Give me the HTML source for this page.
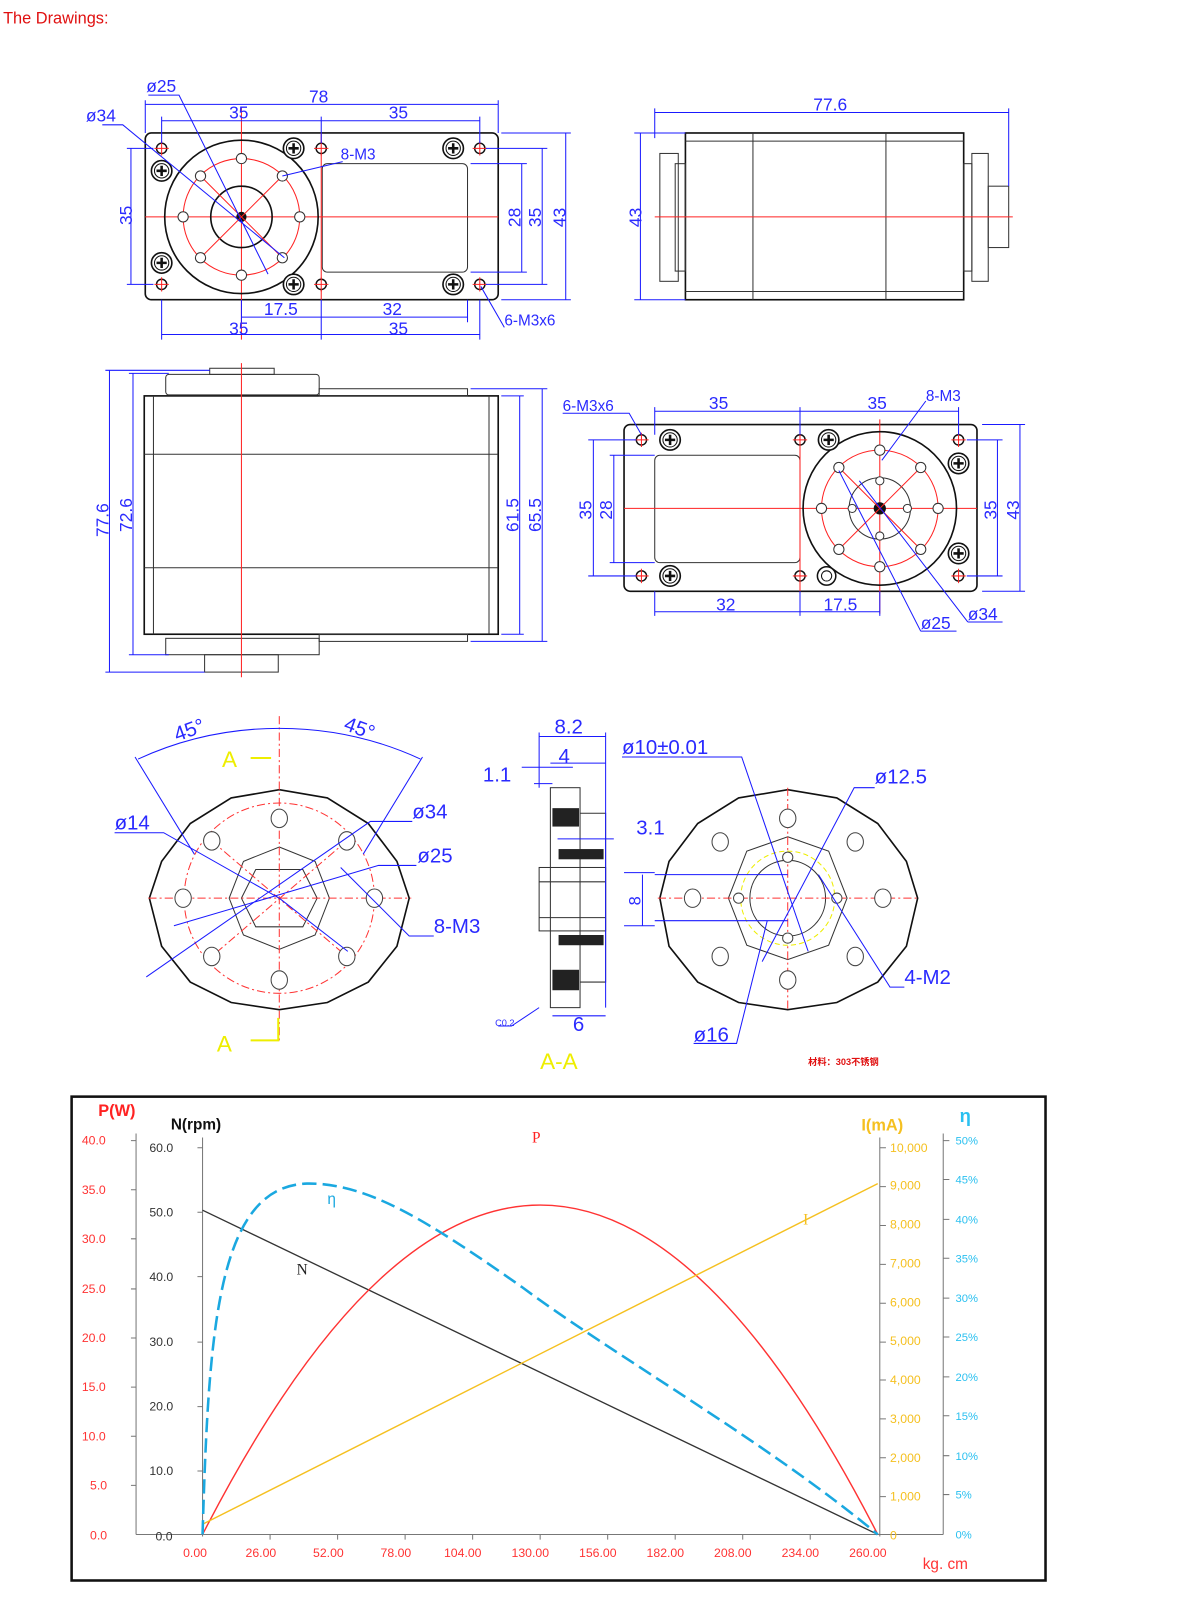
<!DOCTYPE html>
<html><head><meta charset="utf-8"><style>
html,body{margin:0;padding:0;background:#fff;}
svg{display:block}
text{font-family:"Liberation Sans","Noto Sans CJK SC",sans-serif;}
.b{stroke:#1a1aff;stroke-width:1;fill:none}
.bt{fill:#2a2aff;font-size:17px}
.k{stroke:#111;stroke-width:1.6;fill:none}
.k1{stroke:#333;stroke-width:1;fill:none}
.r{stroke:#f22;stroke-width:1;fill:none}
.rd{stroke:#f33;stroke-width:1;fill:none;stroke-dasharray:8 3 2 3}
.g{stroke:#777;stroke-width:1;fill:none}
</style></head><body>
<svg width="1200" height="1603" viewBox="0 0 1173 1567" preserveAspectRatio="none" xmlns="http://www.w3.org/2000/svg">
<defs>
<g id="sc"><circle r="10" fill="#fff" stroke="#111" stroke-width="1.6"/><circle r="7" fill="none" stroke="#111"/><path d="M-5 0H5M0 -5V5" stroke="#111" stroke-width="2.5"/></g>
<g id="rh"><circle r="5" fill="#fff" stroke="#111" stroke-width="1.4"/><path d="M-7 0H7M0 -7V7" stroke="#f22"/></g>
</defs>
<text x="3" y="23" fill="#e01010" style="font-size:16px">The Drawings:</text>

<!-- ===== Top-left view ===== -->
<rect x="142" y="130" width="345" height="163" rx="6" class="k"/>
<rect x="315" y="160" width="142" height="106" rx="5" class="k1"/>
<path d="M142 212H487M236 105V332M314 130V293" class="r"/>
<circle cx="236" cy="212" r="75" class="k"/>
<circle cx="236" cy="212" r="57" class="r"/>
<circle cx="236" cy="212" r="30" class="k"/>
<circle cx="236" cy="212" r="5" fill="#111"/>
<path d="M196 172L276 252M276 172L196 252" class="r"/>
<g fill="#fff" stroke="#333">
<circle cx="236" cy="155" r="5"/><circle cx="236" cy="269" r="5"/><circle cx="179" cy="212" r="5"/><circle cx="293" cy="212" r="5"/>
<circle cx="196" cy="172" r="5"/><circle cx="276" cy="172" r="5"/><circle cx="196" cy="252" r="5"/><circle cx="276" cy="252" r="5"/></g>
<use href="#sc" x="158" y="167"/><use href="#sc" x="158" y="257"/><use href="#sc" x="287" y="145"/><use href="#sc" x="287" y="278"/><use href="#sc" x="443" y="145"/><use href="#sc" x="443" y="278"/>
<use href="#rh" x="158" y="145"/><use href="#rh" x="158" y="278"/><use href="#rh" x="314" y="145"/><use href="#rh" x="314" y="278"/><use href="#rh" x="469" y="145"/><use href="#rh" x="469" y="278"/>
<g class="b">
<path d="M142 102H487M142 98V130M487 98V130"/>
<path d="M158 118H469M158 114V140M314 114V140M469 114V140"/>
<path d="M128 145V278M124 145H150M124 278H150"/>
<path d="M510 160V266M460 160H515M460 266H515"/>
<path d="M530 145V278M475 145H535M475 278H535"/>
<path d="M553 130V293M490 130H558M490 293H558"/>
<path d="M236 310H457M236 293V315M457 293V315"/>
<path d="M158 327H469M158 293V332M314 293V332M469 293V332"/>
<path d="M145 93H175L262 268M100 122H120L278 252"/>
<path d="M335 158L276 172M493 320L470 280"/>
</g>
<g class="bt">
<text x="302" y="100">78</text><text x="224" y="116">35</text><text x="380" y="116">35</text>
<text x="143" y="90">ø25</text><text x="84" y="119">ø34</text>
<text x="333" y="156" style="font-size:15px">8-M3</text>
<text x="258" y="308">17.5</text><text x="374" y="308">32</text>
<text x="224" y="327">35</text><text x="380" y="327">35</text>
<text x="493" y="318" style="font-size:15px">6-M3x6</text>
<text transform="translate(129,220) rotate(-90)">35</text>
<text transform="translate(509,222) rotate(-90)">28</text>
<text transform="translate(529,222) rotate(-90)">35</text>
<text transform="translate(553,222) rotate(-90)">43</text>
</g>

<!-- ===== Top-right view ===== -->
<rect x="670" y="130" width="272" height="163" class="k"/>
<path d="M736 130V293M866 130V293M670 138H942M670 285H942" class="k1"/>
<rect x="645" y="150" width="18" height="125" class="k1"/><rect x="660" y="160" width="10" height="105" class="k1"/>
<rect x="942" y="160" width="8" height="105" class="k1"/><rect x="950" y="150" width="16" height="125" class="k1"/>
<rect x="966" y="182" width="20" height="60" class="k1"/>
<path d="M640 212H990" class="r"/>
<g class="b"><path d="M640 110H986M640 106V135M986 106V182"/><path d="M626 130V293M620 130H670M620 293H670"/></g>
<g class="bt"><text x="795" y="108">77.6</text><text transform="translate(627,222) rotate(-90)">43</text></g>

<!-- ===== Middle-left view ===== -->
<rect x="141" y="387" width="346" height="233" class="k"/>
<path d="M150 387V620M478 387V620M141 444H487M141 555H487" class="k1"/>
<rect x="162" y="366" width="150" height="20" rx="3" class="k1"/>
<rect x="205" y="360" width="63" height="6" class="k1"/>
<rect x="312" y="380" width="145" height="7" class="k1"/>
<rect x="162" y="624" width="150" height="16" class="k1"/>
<rect x="200" y="640" width="72" height="17" class="k1"/>
<rect x="312" y="620" width="145" height="7" class="k1"/>
<path d="M236 355V662" class="r"/>
<g class="b">
<path d="M107 362V657M103 362H205M103 657H200"/>
<path d="M130 365V640M126 365H165M126 640H165"/>
<path d="M508 387V620M490 387H512M490 620H512"/>
<path d="M530 380V627M460 380H535M460 627H535"/>
</g>
<g class="bt"><text transform="translate(106,525) rotate(-90)">77.6</text><text transform="translate(129,520) rotate(-90)">72.6</text>
<text transform="translate(507,520) rotate(-90)">61.5</text><text transform="translate(529,520) rotate(-90)">65.5</text></g>

<!-- ===== Middle-right view ===== -->
<rect x="610" y="415" width="345" height="163" rx="6" class="k"/>
<rect x="640" y="445" width="142" height="105" rx="5" class="k1"/>
<path d="M610 497H955M860 410V600M782 415V578" class="r"/>
<circle cx="860" cy="497" r="75" class="k"/>
<circle cx="860" cy="497" r="57" class="r"/>
<circle cx="860" cy="497" r="30" class="k1"/>
<circle cx="860" cy="497" r="6" fill="#111"/>
<path d="M820 457L900 537M900 457L820 537" class="r"/>
<g fill="#fff" stroke="#333">
<circle cx="860" cy="440" r="5"/><circle cx="860" cy="554" r="5"/><circle cx="803" cy="497" r="5"/><circle cx="917" cy="497" r="5"/>
<circle cx="820" cy="457" r="5"/><circle cx="900" cy="457" r="5"/><circle cx="820" cy="537" r="5"/><circle cx="900" cy="537" r="5"/>
<circle cx="860" cy="470" r="4"/><circle cx="860" cy="524" r="4"/><circle cx="833" cy="497" r="4"/><circle cx="887" cy="497" r="4"/></g>
<use href="#sc" x="655" y="430"/><use href="#sc" x="655" y="563"/><use href="#sc" x="810" y="430"/><use href="#sc" x="937" y="453"/><use href="#sc" x="937" y="541"/>
<circle cx="808" cy="563" r="9" fill="#fff" stroke="#111" stroke-width="1.5"/><circle cx="808" cy="563" r="5" fill="none" stroke="#111"/>
<use href="#rh" x="627" y="430"/><use href="#rh" x="627" y="563"/><use href="#rh" x="782" y="430"/><use href="#rh" x="782" y="563"/><use href="#rh" x="937" y="430"/><use href="#rh" x="937" y="563"/>
<g class="b">
<path d="M640 402H937M640 398V425M782 398V425M937 398V425"/>
<path d="M580 430V563M575 430H622M575 563H622"/>
<path d="M600 445V550M596 445H640M596 550H640"/>
<path d="M975 430V563M945 430H980M945 563H980"/>
<path d="M997 415V578M960 415H1002M960 578H1002"/>
<path d="M640 598H860M640 578V602M782 578V602M860 578V602"/>
<path d="M550 404H615L627 425M905 392L862 450M900 617H935M900 617L820 460M946 608H980M946 608L840 470"/>
</g>
<g class="bt">
<text x="550" y="402" style="font-size:15px">6-M3x6</text><text x="693" y="400">35</text><text x="848" y="400">35</text><text x="905" y="392" style="font-size:15px">8-M3</text>
<text x="700" y="597">32</text><text x="805" y="597">17.5</text><text x="900" y="615">ø25</text><text x="946" y="606">ø34</text>
<text transform="translate(578,508) rotate(-90)">35</text><text transform="translate(598,508) rotate(-90)">28</text>
<text transform="translate(974,508) rotate(-90)">35</text><text transform="translate(996,508) rotate(-90)">43</text>
</g>

<!-- ===== Bottom-left flange ===== -->
<polygon points="273,772 320,780 360,805 388,842 400,878 388,925 360,960 320,980 273,987 226,980 186,960 158,925 146,878 158,842 186,805 226,780" class="k" stroke="#555"/>
<circle cx="273" cy="878" r="93" class="rd"/>
<polygon points="273,828 308,842 322,878 308,914 273,928 238,914 224,878 238,842" class="k1" stroke="#666"/>
<polygon points="250,850 296,850 310,878 296,906 250,906 236,878" class="k1" stroke="#666"/>
<path d="M145 878H402M273 700V1020" class="rd"/>
<path d="M207 822L339 935M339 822L207 935" class="rd"/>
<g fill="#fff" stroke="#444"><ellipse cx="273" cy="800" rx="8" ry="9"/><ellipse cx="339" cy="822" rx="8" ry="9"/><ellipse cx="366" cy="878" rx="8" ry="9"/><ellipse cx="339" cy="935" rx="8" ry="9"/><ellipse cx="273" cy="958" rx="8" ry="9"/><ellipse cx="207" cy="935" rx="8" ry="9"/><ellipse cx="179" cy="878" rx="8" ry="9"/><ellipse cx="207" cy="822" rx="8" ry="9"/></g>
<g class="b">
<path d="M135 742Q200 712 273 712Q346 712 411 742M132 740L190 835M413 740L355 835"/>
<path d="M112 814H160L273 878M403 803H362L143 955M407 846H370L170 905M424 915H400L333 848M273 878L340 930"/>
</g>
<g class="bt" style="font-size:20px"><text x="112" y="811">ø14</text><text x="403" y="800">ø34</text><text x="408" y="843">ø25</text><text x="424" y="912">8-M3</text>
<text transform="translate(173,725) rotate(-20)">45°</text><text transform="translate(335,713) rotate(20)">45°</text></g>
<g fill="#ee0" style="font-size:22px"><text x="217" y="750">A</text><text x="212" y="1028">A</text><text x="528" y="1045">A-A</text></g>
<path d="M245 741H265M245 1017H272V995" stroke="#ee0" stroke-width="2" fill="none"/>

<!-- ===== Section A-A ===== -->
<rect x="538" y="770" width="29" height="215" class="k1" stroke="#444" fill="#fff"/>
<rect x="527" y="848" width="65" height="62" class="k1" stroke="#444" fill="#fff"/>
<path d="M567 795H592V960H567" class="k1" stroke="#444"/>
<path d="M527 862H592M527 897H592" class="k1"/>
<g fill="#222"><rect x="540" y="790" width="26" height="18"/><rect x="546" y="830" width="44" height="10"/><rect x="546" y="914" width="44" height="10"/><rect x="540" y="948" width="26" height="20"/></g>
<g class="b">
<path d="M527 716V770M592 716V985M527 720H592M538 746H592M510 750H560M522 766H540M545 820H600M540 993H592M487 1003H500L527 985M628 855V905M610 853H640M610 905H640"/>
</g>
<g class="bt" style="font-size:20px"><text x="542" y="717">8.2</text><text x="546" y="746">4</text><text x="472" y="764">1.1</text><text x="622" y="816">3.1</text><text x="560" y="1008">6</text>
<text transform="translate(626,885) rotate(-90)" style="font-size:16px">8</text></g>
<text x="484" y="1003" fill="#2a2aff" style="font-size:9px">C0.2</text>

<!-- ===== Right flange ===== -->
<polygon points="770,772 818,780 858,805 886,842 897,878 886,925 858,960 818,980 770,987 722,980 682,960 654,925 645,878 654,842 682,805 722,780" class="k" stroke="#555"/>
<polygon points="770,818 810,832 828,878 810,924 770,938 730,924 712,878 730,832" class="k1" stroke="#666"/>
<circle cx="770" cy="878" r="37" class="k1"/>
<circle cx="770" cy="878" r="46" fill="none" stroke="#ee0" stroke-dasharray="5 3"/>
<path d="M643 878H898M770 770V988" class="rd"/>
<g fill="#fff" stroke="#444"><ellipse cx="770" cy="800" rx="8" ry="9"/><ellipse cx="836" cy="823" rx="8" ry="9"/><ellipse cx="863" cy="878" rx="8" ry="9"/><ellipse cx="836" cy="935" rx="8" ry="9"/><ellipse cx="770" cy="958" rx="8" ry="9"/><ellipse cx="704" cy="935" rx="8" ry="9"/><ellipse cx="677" cy="878" rx="8" ry="9"/><ellipse cx="704" cy="823" rx="8" ry="9"/>
<circle cx="770" cy="838" r="5"/><circle cx="818" cy="878" r="5"/><circle cx="770" cy="917" r="5"/><circle cx="722" cy="878" r="5"/></g>
<g class="b">
<path d="M608 740H725L790 930M855 770H835L745 940M884 965H870L800 855M678 1020H720L750 900M640 855H770M640 900H770"/>
</g>
<g class="bt" style="font-size:20px"><text x="608" y="737">ø10±0.01</text><text x="855" y="766">ø12.5</text><text x="884" y="962">4-M2</text><text x="678" y="1018">ø16</text></g>
<text x="790" y="1041" fill="#e01010" style="font-size:9px;font-weight:bold">材料：303不锈钢</text>

<!-- ===== Chart ===== -->
<rect x="70" y="1072" width="952" height="473" fill="#fff" stroke="#111" stroke-width="2.5"/>
<g class="g">
<path d="M133 1108V1500M198 1112V1502M860 1112V1502M922 1108V1500M133 1500H922"/>
<path d="M128 1115H133M128 1163H133M128 1211H133M128 1260H133M128 1308H133M128 1356H133M128 1404H133M128 1452H133"/>
<path d="M193 1122H198M193 1185H198M193 1248H198M193 1312H198M193 1375H198M193 1438H198"/>
<path d="M860 1122H866M860 1160H866M860 1198H866M860 1236H866M860 1274H866M860 1312H866M860 1349H866M860 1387H866M860 1425H866M860 1463H866"/>
<path d="M922 1115H928M922 1153H928M922 1192H928M922 1230H928M922 1269H928M922 1307H928M922 1346H928M922 1384H928M922 1423H928M922 1461H928"/>
<path d="M264 1500V1505M330 1500V1505M396 1500V1505M462 1500V1505M528 1500V1505M594 1500V1505M660 1500V1505M726 1500V1505M792 1500V1505"/>
</g>
<path d="M198 1183L858 1500" stroke="#333" stroke-width="1.3" fill="none"/>
<path d="M198 1500Q528 856 858 1500" stroke="#f33" stroke-width="1.4" fill="none"/>
<path d="M198 1490L858 1157" stroke="#f5c020" stroke-width="1.4" fill="none"/>
<path d="M198 1500C204 1300 212 1160 300 1157C360 1156 420 1195 510 1258C600 1325 750 1410 858 1500" stroke="#1aa8e0" stroke-width="2.5" fill="none" stroke-dasharray="14 6"/>
<g style="font-family:'Liberation Mono',monospace;font-size:12px">
<g fill="#f33"><text x="80" y="1119">40.0</text><text x="80" y="1167">35.0</text><text x="80" y="1215">30.0</text><text x="80" y="1264">25.0</text><text x="80" y="1312">20.0</text><text x="80" y="1360">15.0</text><text x="80" y="1408">10.0</text><text x="88" y="1456">5.0</text><text x="88" y="1505">0.0</text></g>
<g fill="#333"><text x="146" y="1126">60.0</text><text x="146" y="1189">50.0</text><text x="146" y="1252">40.0</text><text x="146" y="1316">30.0</text><text x="146" y="1379">20.0</text><text x="146" y="1442">10.0</text><text x="152" y="1506">0.0</text></g>
<g fill="#f5c020"><text x="870" y="1126">10,000</text><text x="870" y="1163">9,000</text><text x="870" y="1201">8,000</text><text x="870" y="1239">7,000</text><text x="870" y="1277">6,000</text><text x="870" y="1315">5,000</text><text x="870" y="1353">4,000</text><text x="870" y="1391">3,000</text><text x="870" y="1429">2,000</text><text x="870" y="1467">1,000</text><text x="870" y="1505">0</text></g>
<g fill="#2ac0f0" style="font-size:11px"><text x="934" y="1119">50%</text><text x="934" y="1157">45%</text><text x="934" y="1196">40%</text><text x="934" y="1234">35%</text><text x="934" y="1273">30%</text><text x="934" y="1311">25%</text><text x="934" y="1350">20%</text><text x="934" y="1388">15%</text><text x="934" y="1427">10%</text><text x="934" y="1465">5%</text><text x="934" y="1504">0%</text></g>
<g fill="#f33"><text x="179" y="1522">0.00</text><text x="240" y="1522">26.00</text><text x="306" y="1522">52.00</text><text x="372" y="1522">78.00</text><text x="434" y="1522">104.00</text><text x="500" y="1522">130.00</text><text x="566" y="1522">156.00</text><text x="632" y="1522">182.00</text><text x="698" y="1522">208.00</text><text x="764" y="1522">234.00</text><text x="830" y="1522">260.00</text>
<text x="902" y="1534" style="font-size:15px">kg. cm</text></g>
</g>
<text x="96" y="1091" fill="#f22" style="font-size:16px;font-weight:bold">P(W)</text>
<text x="167" y="1104" fill="#111" style="font-size:15px;font-weight:bold">N(rpm)</text>
<text x="842" y="1105" fill="#f5c020" style="font-size:16px;font-weight:bold">I(mA)</text>
<text x="938" y="1097" fill="#2ac0f0" style="font-size:18px;font-weight:bold">η</text>
<text x="520" y="1117" fill="#f22" style="font-size:15px;font-family:'Liberation Serif',serif">P</text>
<text x="320" y="1177" fill="#1aa8e0" style="font-size:15px">η</text>
<text x="290" y="1246" fill="#222" style="font-size:15px;font-family:'Liberation Serif',serif">N</text>
<text x="785" y="1197" fill="#f5c020" style="font-size:15px;font-family:'Liberation Serif',serif">I</text>
</svg>
</body></html>
